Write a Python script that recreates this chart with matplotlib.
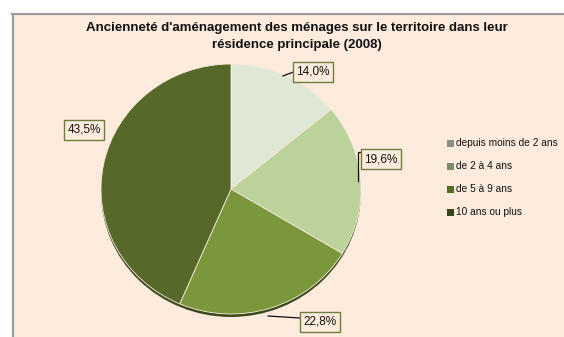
import matplotlib
matplotlib.use("Agg")
import matplotlib.pyplot as plt
from matplotlib.patches import Rectangle, Ellipse
from matplotlib import font_manager

names = {f.name for f in font_manager.fontManager.ttflist}
FONT = "Liberation Sans Narrow" if "Liberation Sans Narrow" in names else "Liberation Sans"
plt.rcParams["font.family"] = [FONT, "DejaVu Sans"]

# Data
categories = ["depuis moins de 2 ans", "de 2 à 4 ans", "de 5 à 9 ans", "10 ans ou plus"]
values = [14.0, 19.6, 22.8, 43.5]
value_labels = ["14,0%", "19,6%", "22,8%", "43,5%"]
title = "Ancienneté d'aménagement des ménages sur le territoire dans leur\nrésidence principale (2008)"

slice_colors = ["#DFE8D4", "#BCD29B", "#7B973B", "#56692A"]
legend_colors = ["#8C8F86", "#7C8C66", "#556B22", "#34461A"]
bg = "#FDEBDD"
box_edge = "#6E7D3E"

W, H = 564, 337
fig = plt.figure(figsize=(W / 100, H / 100), dpi=100, facecolor="white")
ax = fig.add_axes([0, 0, 1, 1])
ax.set_xlim(0, W)
ax.set_ylim(0, H)
ax.axis("off")

def Y(y):
    return H - y

# Chart area background with grey left/top frame
ax.add_patch(Rectangle((12, 0), W - 12, Y(14), facecolor=bg, edgecolor="none", zorder=0))
ax.plot([12.5, 12.5], [0, Y(14)], color="#9A9A9A", lw=1.5, zorder=1)
ax.plot([12, W], [Y(14), Y(14)], color="#9A9A9A", lw=1.5, zorder=1)

ax.text(297, Y(36.5), title, ha="center", va="center", fontsize=9.5,
        fontweight="bold", color="#111111", linespacing=1.55)

# pie in its own axes, slightly flattened vertically
cx, cy, rx, ry = 231, 189, 130, 125
# soft rim under the pie
ax.add_patch(Ellipse((cx, Y(cy) - 3), 2 * rx, 2 * ry, facecolor="#3C4A1E",
                     edgecolor="none", zorder=2))
pax = fig.add_axes([(cx - rx) / W, (Y(cy) - ry) / H, 2 * rx / W, 2 * ry / H])
pax.set_zorder(2)
pax.patch.set_visible(False)
wedges, _ = pax.pie(values, colors=slice_colors, startangle=90, counterclock=False,
                    radius=1, frame=True,
                    wedgeprops=dict(linewidth=0.6, edgecolor=bg))
pax.set_xlim(-1, 1)
pax.set_ylim(-1, 1)
pax.set_aspect("auto")
pax.axis("off")

# overlay axes for labels and legend
oax = fig.add_axes([0, 0, 1, 1])
oax.set_zorder(3)
oax.patch.set_visible(False)
oax.set_xlim(0, W)
oax.set_ylim(0, H)
oax.axis("off")

label_pos = [(313, 72), (381, 159), (320, 322), (84, 130)]
leaders = [
    [(283, 76), (296, 71), (297, 71)],
    [(358, 181), (358, 152), (365, 152)],
    [(268, 316), (300, 318)],
    None,
]
for lab, (x, y), ld in zip(value_labels, label_pos, leaders):
    if ld:
        xs = [p[0] for p in ld]
        ys = [Y(p[1]) for p in ld]
        oax.plot(xs, ys, color="#111111", lw=0.9, zorder=4)
    oax.text(x, Y(y), lab, ha="center", va="center", fontsize=8.5, color="#111111", zorder=5,
             bbox=dict(boxstyle="square,pad=0.3", facecolor=bg, edgecolor=box_edge, lw=1.0))

# legend
leg_y = [143, 166, 189, 212]
for cat, col, y in zip(categories, legend_colors, leg_y):
    oax.add_patch(Rectangle((447, Y(y) - 3.5), 7, 7, facecolor=col, edgecolor="none", zorder=4))
    oax.text(456, Y(y), cat, ha="left", va="center", fontsize=7.3, color="#111111", zorder=4)

fig.savefig("out.png", dpi=100, facecolor="white")
